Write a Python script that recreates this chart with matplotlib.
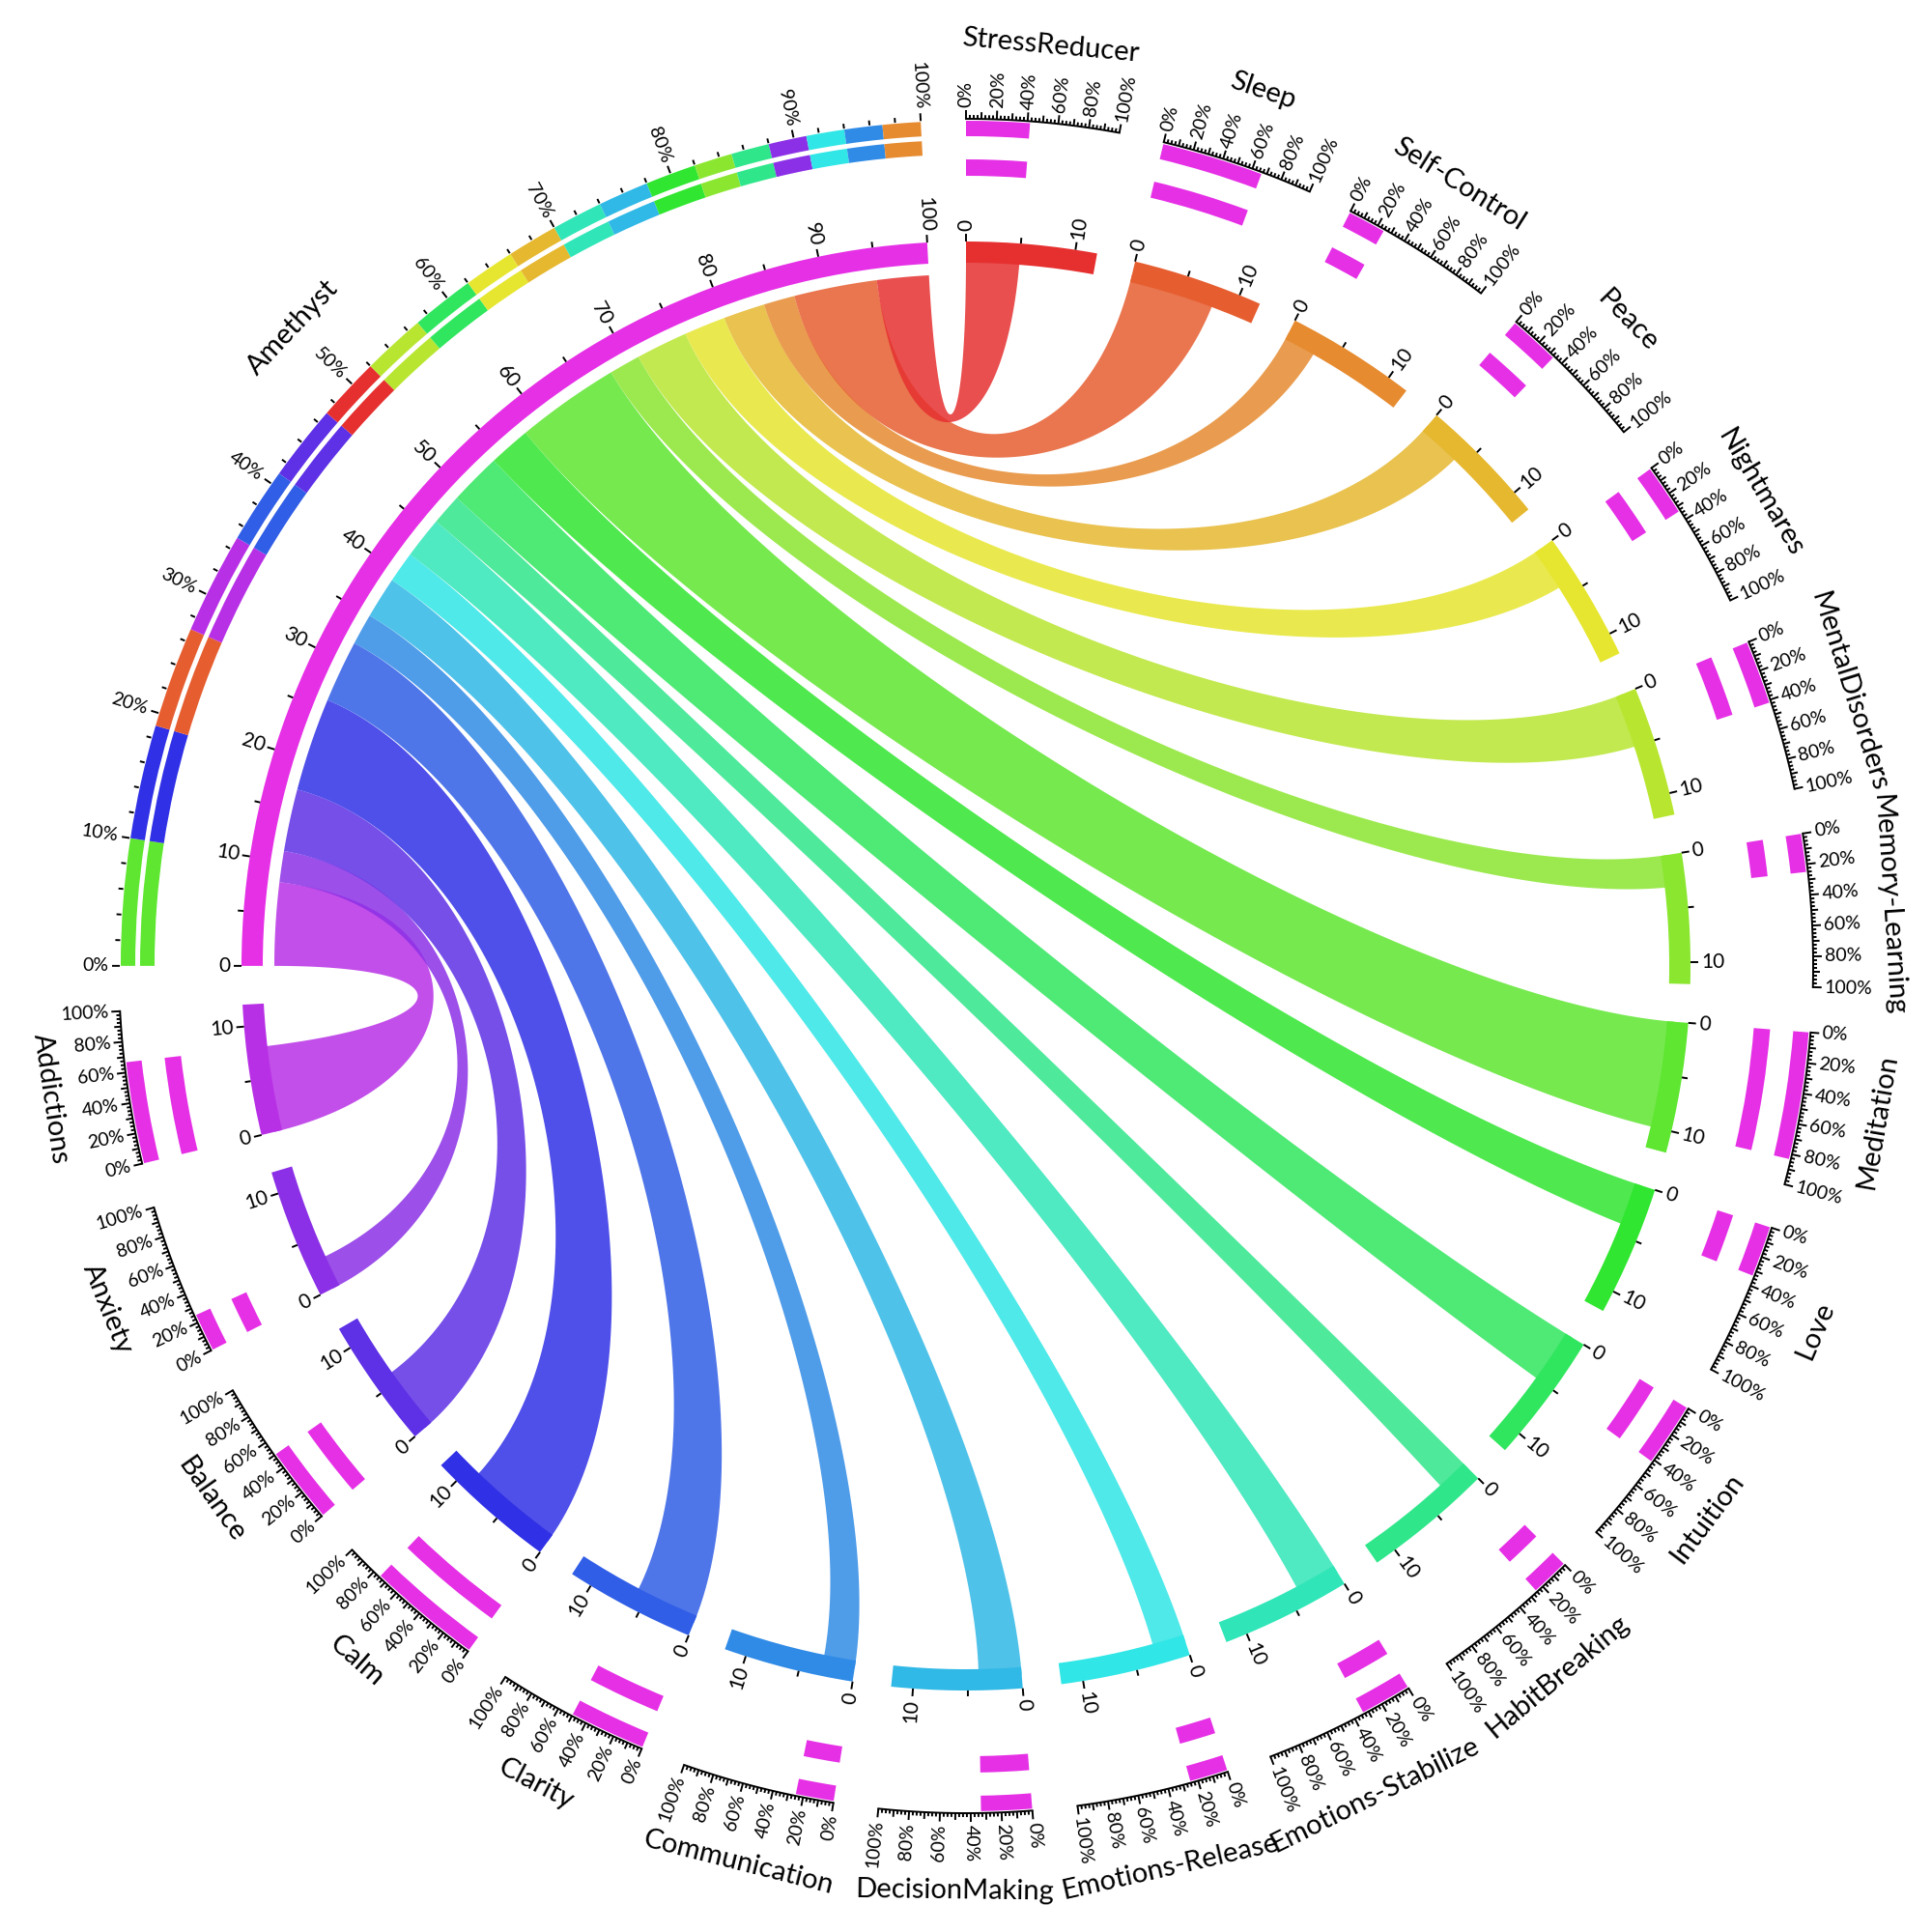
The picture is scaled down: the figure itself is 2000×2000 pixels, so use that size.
import colorsys
import numpy as np
import matplotlib
matplotlib.use('Agg')
import matplotlib.pyplot as plt
from matplotlib.patches import Wedge, Polygon
from matplotlib.collections import LineCollection

plt.rcParams['font.family'] = ['Lato', 'DejaVu Sans']

# segments going clockwise from 12 o'clock
props = ['StressReducer', 'Sleep', 'Self-Control', 'Peace', 'Nightmares',
         'MentalDisorders', 'Memory-Learning', 'Meditation', 'Love', 'Intuition',
         'HabitBreaking', 'Emotions-Stabilize', 'Emotions-Release', 'DecisionMaking',
         'Communication', 'Clarity', 'Calm', 'Balance', 'Anxiety', 'Addictions']
links = [5, 8, 3, 4, 4, 5, 3, 10, 4, 5, 3, 4, 3, 4, 3, 6, 9, 6, 3, 8]
seg_size = [12] * 20
stone = 'Amethyst'
stone_size = 100
# order of the stacked composition ring around the stone
ring_order = ['Meditation', 'Calm', 'Sleep', 'Addictions', 'Clarity', 'Balance',
              'StressReducer', 'MentalDisorders', 'Intuition', 'Nightmares', 'Peace',
              'Emotions-Stabilize', 'DecisionMaking', 'Love', 'Memory-Learning',
              'HabitBreaking', 'Anxiety', 'Emotions-Release', 'Communication', 'Self-Control']

GAP = 3.07
unit = (360 - 21 * GAP) / (stone_size + sum(seg_size))

R_IN, R_OUT = 728, 750
R_LINK_STONE = 716
R_LINK_PROP = 736


def col(i):
    return colorsys.hsv_to_rgb((i * 15 % 360) / 360.0, 0.79, 0.90)


def xy(r, th):
    t = np.deg2rad(th)
    return r * np.sin(t), r * np.cos(t)


fig = plt.figure(figsize=(10, 10), dpi=200)
ax = fig.add_axes([0, 0, 1, 1])
ax.set_xlim(-1000, 1000)
ax.set_ylim(-1000, 1000)
ax.set_aspect('equal')
ax.axis('off')


def band(th0, th1, r0, r1, color, z=3):
    ax.add_patch(Wedge((0, 0), r1, 90 - th1, 90 - th0, width=r1 - r0,
                       facecolor=color, lw=0, zorder=z))


def radial_text(r, th, s, size, **kw):
    th = th % 360
    x, y = xy(r, th)
    if th < 180:
        rot, ha = 90 - th, 'left'
    else:
        rot, ha = 270 - th, 'right'
    ax.text(x, y, s, rotation=rot, rotation_mode='anchor', ha=ha, va='center',
            fontsize=size, zorder=6, **kw)


def tangent_text(r, th, s, size):
    th = th % 360
    x, y = xy(r, th)
    rot = 180 - th if 90 < th < 270 else -th
    ax.text(x, y, s, rotation=rot, rotation_mode='anchor', ha='center', va='center',
            fontsize=size, zorder=6)


ticks = []


def tick(th, r0, r1):
    ticks.append([xy(r0, th), xy(r1, th)])


# layout
starts = []
pos = 0.0
for s in seg_size:
    starts.append(pos)
    pos += s * unit + GAP
stone_start = pos
stone_end = stone_start + stone_size * unit


def bezier(p0, p3, rho, n=120):
    p0 = np.array(p0); p3 = np.array(p3)
    p1 = rho * p0; p2 = rho * p3
    t = np.linspace(0, 1, n)[:, None]
    return ((1 - t) ** 3) * p0 + 3 * t * (1 - t) ** 2 * p1 + 3 * t ** 2 * (1 - t) * p2 + t ** 3 * p3


def arc(r, th0, th1, n=40):
    th = np.linspace(th0, th1, n)
    x, y = xy(r, th)
    return np.column_stack([x, y])


def rho_for(a, b):
    d = abs(a - b) % 360
    d = min(d, 360 - d)
    return 0.72 - 0.2 * d / 180.0


# ribbons: stone side is filled in reverse segment order
cum = 0.0
for i in reversed(range(len(props))):
    v = links[i]
    a1 = stone_start + cum * unit
    a2 = stone_start + (cum + v) * unit
    cum += v
    b1 = starts[i]
    b2 = starts[i] + v * unit
    pts = [arc(R_LINK_STONE, a1, a2),
           bezier(xy(R_LINK_STONE, a2), xy(R_LINK_PROP, b1), rho_for(a2, b1)),
           arc(R_LINK_PROP, b1, b2),
           bezier(xy(R_LINK_PROP, b2), xy(R_LINK_STONE, a1), rho_for(b2, a1))]
    ax.add_patch(Polygon(np.vstack(pts), closed=True, facecolor=col(i), alpha=0.85,
                         lw=0, zorder=2))

magenta = col(20)

# property segments
for i, name in enumerate(props):
    th0 = starts[i]
    th1 = th0 + seg_size[i] * unit
    band(th0, th1, R_IN, R_OUT, col(i))
    for k in range(0, seg_size[i] + 1, 5):
        th = th0 + k * unit
        if k % 10 == 0:
            tick(th, R_OUT, R_OUT + 8)
            radial_text(R_OUT + 11, th, str(k), 7.5)
        else:
            tick(th, R_OUT, R_OUT + 6)
    frac = links[i] / seg_size[i]
    thf = th0 + frac * (th1 - th0)
    band(th0, thf, 859, 875, magenta)
    band(th0, thf, 818, 835, magenta)
    a = arc(877, th0, th1, 60)
    ax.plot(a[:, 0], a[:, 1], color='black', lw=0.7, zorder=5)
    for p in np.arange(0, 100.01, 2.5):
        th = th0 + p / 100 * (th1 - th0)
        if p % 20 == 0:
            tick(th, 877, 886)
            radial_text(889, th, '%d%%' % p, 7)
        elif p % 10 == 0:
            tick(th, 877, 884)
        else:
            tick(th, 877, 881)
    tangent_text(957, (th0 + th1) / 2, name, 10.5)

# stone segment
band(stone_start, stone_end, R_IN, R_OUT, magenta)
for k in range(0, stone_size + 1, 5):
    th = stone_start + k * unit
    if k % 10 == 0:
        tick(th, R_OUT, R_OUT + 8)
        radial_text(R_OUT + 11, th, str(k), 7.5)
    else:
        tick(th, R_OUT, R_OUT + 6)

cum = 0.0
for name in ring_order:
    i = props.index(name)
    th0 = stone_start + cum / stone_size * (stone_end - stone_start)
    cum += links[i]
    th1 = stone_start + cum / stone_size * (stone_end - stone_start)
    band(th0, th1, 860, 875, col(i))
    band(th0, th1, 840, 855, col(i))
for p in range(0, 101, 2):
    th = stone_start + p / 100 * (stone_end - stone_start)
    if p % 10 == 0:
        tick(th, 876, 884)
        radial_text(888, th, '%d%%' % p, 7)
    else:
        tick(th, 876, 881)
tangent_text(960, (stone_start + stone_end) / 2, stone, 10.5)

ax.add_collection(LineCollection(ticks, colors='black', linewidths=0.7, zorder=5))

fig.savefig('out.png', dpi=200, facecolor='white')
